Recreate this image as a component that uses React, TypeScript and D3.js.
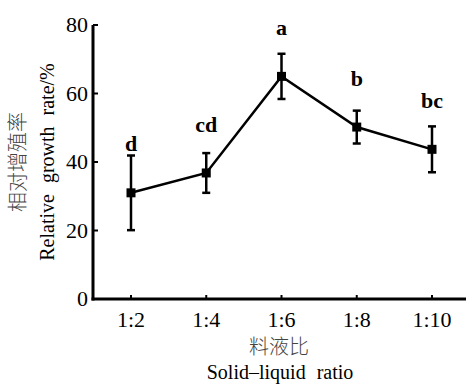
import React from "react";
import * as d3 from "d3";

const ratios = ["1:2", "1:4", "1:6", "1:8", "1:10"];
const growthRate = [31, 36.8, 65, 50.2, 43.7];
const errors = [10.9, 5.8, 6.6, 4.8, 6.7];
const letters = ["d", "cd", "a", "b", "bc"];
const letterHeights = [45.5, 51, 79.4, 64.5, 58];
const yTicks = [0, 20, 40, 60, 80];

const W = 466;
const H = 385;
const serif = "'Liberation Serif', 'Times New Roman', serif";
const cjk = "'Noto Sans CJK SC', sans-serif";

export default function App() {
  const x = d3.scalePoint<string>().domain(ratios).range([131, 432]);
  const y = d3.scaleLinear().domain([0, 80]).range([299, 25]);

  const pts = ratios.map((r, i) => ({ r, v: growthRate[i], e: errors[i], l: letters[i], lh: letterHeights[i] }));
  const line = d3
    .line<(typeof pts)[number]>()
    .x((d) => x(d.r)!)
    .y((d) => y(d.v));

  const axisX0 = 93;
  const axisY0 = y(0);

  return (
    <svg width={W} height={H} style={{ position: "absolute", left: 0, top: 0, background: "#fff" }}>
      {/* axes */}
      <line x1={axisX0} x2={axisX0} y1={y(80)} y2={axisY0 + 1.5} stroke="#000" strokeWidth={3} />
      <line x1={axisX0 - 1.5} x2={W} y1={axisY0} y2={axisY0} stroke="#000" strokeWidth={3} />

      {yTicks.map((t) => (
        <g key={t}>
          <line x1={axisX0} x2={axisX0 + 5} y1={y(t)} y2={y(t)} stroke="#000" strokeWidth={2} />
          <text x={88} y={y(t)} dy="0.34em" textAnchor="end" fontFamily={serif} fontSize={22}>
            {t}
          </text>
        </g>
      ))}

      {ratios.map((r) => (
        <g key={r}>
          <line x1={x(r)} x2={x(r)} y1={axisY0} y2={axisY0 - 4} stroke="#000" strokeWidth={2} />
          <text x={x(r)} y={320} dy="0.34em" textAnchor="middle" fontFamily={serif} fontSize={22}>
            {r}
          </text>
        </g>
      ))}

      {/* series */}
      <path d={line(pts) ?? ""} fill="none" stroke="#000" strokeWidth={2.5} />
      {pts.map((d) => (
        <g key={d.r}>
          <line x1={x(d.r)} x2={x(d.r)} y1={y(d.v - d.e)} y2={y(d.v + d.e)} stroke="#000" strokeWidth={2.5} />
          <line x1={x(d.r)! - 4} x2={x(d.r)! + 4} y1={y(d.v + d.e)} y2={y(d.v + d.e)} stroke="#000" strokeWidth={2.5} />
          <line x1={x(d.r)! - 4} x2={x(d.r)! + 4} y1={y(d.v - d.e)} y2={y(d.v - d.e)} stroke="#000" strokeWidth={2.5} />
          <rect x={x(d.r)! - 4.5} y={y(d.v) - 4.5} width={9} height={9} fill="#000" />
          <text x={x(d.r)} y={y(d.lh)} dy="0.34em" textAnchor="middle" fontFamily={serif} fontSize={22} fontWeight="bold">
            {d.l}
          </text>
        </g>
      ))}

      {/* axis titles */}
      <g transform="translate(18,162) rotate(-90)">
        <text textAnchor="middle" dy="0.36em" fontFamily={cjk} fontSize={20} fontWeight={300} fill="#444">
          相对增殖率
        </text>
      </g>
      <g transform="translate(47,162) rotate(-90)">
        <text textAnchor="middle" dy="0.34em" fontFamily={serif} fontSize={20} wordSpacing={6}>
          Relative growth rate/%
        </text>
      </g>
      <text x={279} y={347} dy="0.36em" textAnchor="middle" fontFamily={cjk} fontSize={20} fontWeight={300} fill="#444">
        料液比
      </text>
      <text x={280} y={373} dy="0.3em" textAnchor="middle" fontFamily={serif} fontSize={20} wordSpacing={6}>
        Solid–liquid ratio
      </text>
    </svg>
  );
}
